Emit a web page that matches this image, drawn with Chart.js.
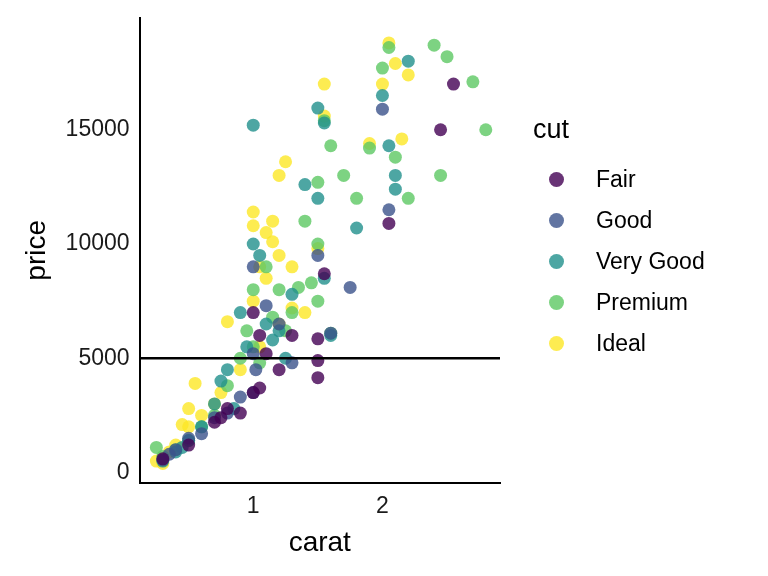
<!DOCTYPE html>
<html>
<head>
<meta charset="utf-8">
<script src="https://cdn.jsdelivr.net/npm/chart.js@4"></script>
<style>
  html, body { margin: 0; padding: 0; background: #fff; }
  #wrap { width: 768px; height: 576px; position: relative; font-family: 'Liberation Sans', Arial, sans-serif; }
  #legend { position: absolute; left: 533px; top: 114px; color: #000; }
  #legend .title { font-size: 27px; margin-bottom: 14px; }
  #legend .item { display: flex; align-items: center; height: 41px; font-size: 23px; }
  #legend .dot { width: 15px; height: 15px; border-radius: 50%; margin-left: 16px; margin-right: 32px; }
</style>
</head>
<body>
<div id="wrap"><canvas id="chart"></canvas><div id="legend"></div></div>
<script>
const cuts = ['Fair', 'Good', 'Very Good', 'Premium', 'Ideal'];
const cutColors = ['#440154', '#3B528B', '#21908C', '#5DC863', '#FDE725'];
const xTicks = [1, 2];
const yTicks = [0, 5000, 10000, 15000];
const refPrice = 5000;

// [carat, price]
const fair = [[2.55,17000],[2.45,15000],[2.05,10900],[1.5,5850],[1.5,4150],[1.55,8700],[1.0,3500],[1.05,3700],[0.9,2600],[1.0,7000],[1.05,6000],[0.7,2200],[0.8,2800],[1.2,4500],[1.5,4900],[0.5,1200],[0.3,600],[1.1,5200],[1.3,6000],[0.75,2400]];
const good = [[2.0,15900],[2.05,11500],[1.75,8100],[1.6,6100],[1.0,3500],[0.9,3300],[1.0,9000],[1.0,5200],[0.7,2400],[0.5,1500],[0.4,1000],[0.3,550],[1.2,6500],[1.1,7300],[1.5,9500],[0.8,2600],[1.3,4800],[0.35,800],[0.6,1700],[1.02,4500]];
const veryGood = [[1.0,15200],[1.5,15950],[1.55,15300],[2.2,18000],[2.05,14300],[2.1,13000],[2.1,12400],[1.4,12600],[1.5,12000],[1.0,10000],[1.05,9500],[1.8,10700],[2.0,16500],[0.9,7000],[1.1,6500],[1.6,6000],[1.2,6200],[0.8,4500],[0.7,3000],[0.6,2000],[0.5,1400],[0.3,500],[0.4,900],[1.25,5000],[1.3,7800],[0.95,5500],[1.55,8500],[0.75,4000],[0.45,1100],[1.15,5800],[0.85,2800]];
const premium = [[2.05,18600],[2.4,18700],[2.5,18200],[2.7,17100],[2.8,15000],[2.45,13000],[2.1,13800],[2.0,17700],[2.2,12000],[1.8,12000],[1.9,14200],[1.6,14300],[1.55,15400],[1.5,12700],[1.4,11000],[1.7,13000],[1.5,10000],[1.2,8000],[1.1,9000],[1.0,8000],[1.3,7000],[1.5,7500],[1.6,6100],[0.9,5000],[0.8,3800],[1.0,5500],[0.7,2500],[0.6,2000],[0.5,1400],[0.4,1000],[0.3,700],[0.25,1100],[1.05,4800],[1.25,6200],[1.35,8100],[1.45,8300],[0.95,6200],[1.15,6800]];
const ideal = [[2.05,18800],[2.1,17900],[2.2,17400],[2.0,17000],[2.15,14600],[1.9,14400],[1.55,17000],[1.55,15600],[1.2,13000],[1.25,13600],[1.0,11400],[1.0,10800],[1.1,10500],[1.15,11000],[1.2,9500],[1.3,9000],[1.05,9000],[1.0,7500],[0.8,6600],[1.1,8500],[1.4,7000],[1.5,9800],[0.9,4500],[0.7,3000],[0.6,2500],[0.5,2000],[0.5,2800],[0.4,1200],[0.3,600],[0.35,900],[0.55,3900],[0.45,2100],[1.2,6500],[1.3,7200],[1.05,5500],[0.75,3500],[0.3,400],[1.15,10100],[0.25,500]];
const series = [fair, good, veryGood, premium, ideal];

const X_MIN = 0.12, X_MAX = 2.91, Y_MIN = -450, Y_MAX = 19900;

function alpha(hex, a) {
  const n = parseInt(hex.slice(1), 16);
  return `rgba(${n >> 16}, ${(n >> 8) & 255}, ${n & 255}, ${a})`;
}

const datasets = series.map((pts, i) => ({
  label: cuts[i],
  data: pts.map(p => ({ x: p[0], y: p[1] })),
  backgroundColor: alpha(cutColors[i], 0.8),
  borderColor: alpha(cutColors[i], 0.8),
  borderWidth: 0,
  pointRadius: 6.5,
  pointHoverRadius: 6.5
}));

// horizontal reference line at 5000
datasets.push({
  type: 'line',
  label: 'ref',
  data: [{ x: X_MIN, y: refPrice }, { x: X_MAX, y: refPrice }],
  borderColor: '#000',
  borderWidth: 2.5,
  pointRadius: 0,
  order: -1
});

// legend as html
const legendEl = document.getElementById('legend');
legendEl.innerHTML = '<div class="title">cut</div>' + cuts.map((c, i) =>
  `<div class="item"><span class="dot" style="background:${alpha(cutColors[i], 0.8)}"></span>${c}</div>`).join('');

const font = { family: 'Liberation Sans, Arial, sans-serif', size: 23 };

new Chart(document.getElementById('chart'), {
  type: 'scatter',
  data: { datasets },
  options: {
    responsive: true,
    maintainAspectRatio: false,
    animation: false,
    layout: { padding: { left: 16, top: 15, right: 268, bottom: 12 } },
    scales: {
      x: {
        type: 'linear', min: X_MIN, max: X_MAX,
        afterBuildTicks: axis => { axis.ticks = xTicks.map(v => ({ value: v })); },
        grid: { display: false, drawTicks: true, tickLength: 6, tickColor: '#000' },
        border: { color: '#000', width: 2 },
        ticks: { color: '#1a1a1a', font, padding: 4, callback: v => String(v) },
        title: { display: true, text: 'carat', color: '#000', font: { family: font.family, size: 28 }, padding: { top: 2 } }
      },
      y: {
        type: 'linear', min: Y_MIN, max: Y_MAX,
        afterBuildTicks: axis => { axis.ticks = yTicks.map(v => ({ value: v })); },
        grid: { display: false, drawTicks: true, tickLength: 6, tickColor: '#000' },
        border: { color: '#000', width: 2 },
        ticks: { color: '#1a1a1a', font, padding: 4, callback: v => String(v) },
        title: { display: true, text: 'price', color: '#000', font: { family: font.family, size: 28 }, padding: { bottom: 8 } }
      }
    },
    plugins: {
      tooltip: { enabled: false },
      legend: { display: false }
    }
  }
});
</script>
</body>
</html>
